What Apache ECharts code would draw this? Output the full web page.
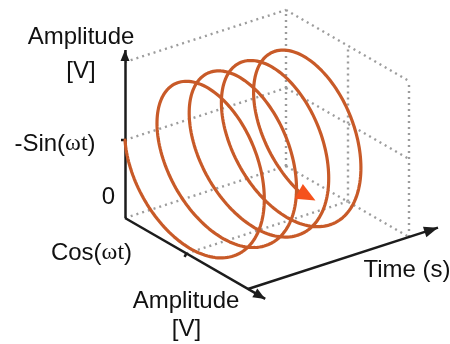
<!DOCTYPE html>
<html>
<head>
<meta charset="utf-8">
<script src="https://cdn.jsdelivr.net/npm/echarts@6/dist/echarts.min.js"></script>
<style>
  html, body { margin: 0; padding: 0; background: #ffffff; }
  #chart { width: 450px; height: 344px; }
</style>
</head>
<body>
<div id="chart"></div>
<script>
// Rotating phasor (cos(ωt), -sin(ωt)) traced along the time axis as a helix.
const helixPeriods = 4.19;          // periods of ωt drawn along time
const boxPeriods = 5;               // periods covered by the time extent of the box
const amplitudeRange = [-1, 1];     // amplitude range on both amplitude axes
const gridLevels = [0, 0.5, 1];     // grid positions as fractions of a box edge
const tickLevels = [0.5];           // tick marks on the two amplitude axes
const tickLabels = ['0', '-Sin(ωt)', 'Cos(ωt)'];
const axisTitles = ['Amplitude', '[V]', 'Time (s)'];
const samplesPerPeriod = 160;

// Oblique projection: a = depth toward the viewer, b = along time, c = up.
const AX = [123, -71], BX = [161, 52], CX = [0, 156];
function project(a, b, c) {
  return [AX[0] * a + BX[0] * b + CX[0] * c, AX[1] * a + BX[1] * b + CX[1] * c];
}

const ampSpan = amplitudeRange[1] - amplitudeRange[0];
function phasor(periods) {
  const ph = 2 * Math.PI * periods;
  const cosV = Math.cos(ph), negSinV = -Math.sin(ph);
  const a = (amplitudeRange[1] - cosV) / ampSpan;
  const c = (negSinV - amplitudeRange[0]) / ampSpan;
  return project(a, periods / boxPeriods, c);
}

// helix samples
const helix = [];
const nSamples = Math.round(helixPeriods * samplesPerPeriod);
for (let i = 0; i <= nSamples; i++) helix.push(phasor(helixPeriods * i / nSamples));

// dotted box grid: back wall (a = 0), end wall (b = 1), floor (c = 0)
const gridLines = [];
gridLevels.forEach(function (c) {
  gridLines.push({ coords: [project(0, 0, c), project(0, 1, c)] });  // back wall, along time
  gridLines.push({ coords: [project(0, 1, c), project(1, 1, c)] });  // end wall, across
});
gridLevels.forEach(function (a) {
  gridLines.push({ coords: [project(a, 1, 0), project(a, 1, 1)] });  // end wall, verticals
});
gridLines.push({ coords: [project(0.5, 0, 0), project(0.5, 1, 0)] }); // floor centre line

// solid axes with arrowheads: [start, tip]
const axisSegs = [
  [project(0, 0, 0), project(0, 0, 1.077)],   // vertical amplitude
  [project(0, 0, 0), project(1.14, 0, 0)],    // cos amplitude
  [project(1, 0, 0), project(1, 1.18, 0)]     // time
];
const arrowSizes = [[11, 4.5], [12, 5], [14, 5.5]];

// arrowhead data: [fromX, fromY, tipX, tipY, length, halfWidth]
const axisArrows = axisSegs.map(function (s, i) {
  return [s[0][0], s[0][1], s[1][0], s[1][1], arrowSizes[i][0], arrowSizes[i][1]];
});
const helixEnd = helix[helix.length - 1];
const helixAim = phasor(helixPeriods + 0.11);
const helixArrow = [[helixEnd[0], helixEnd[1], helixAim[0], helixAim[1], 19, 8.5]];

// ticks: [x, y, dirX, dirY] with direction in screen pixels
const ticks = [];
tickLevels.forEach(function (t) {
  const pv = project(0, 0, t);
  ticks.push([pv[0], pv[1], -1, 0]);
  const pc = project(t, 0, 0);
  ticks.push([pc[0], pc[1], -0.5, 0.866]);
});

function arrowItem(params, api) {
  const from = api.coord([api.value(0), api.value(1)]);
  const to = api.coord([api.value(2), api.value(3)]);
  const len = api.value(4), hw = api.value(5);
  let dx = to[0] - from[0], dy = to[1] - from[1];
  const d = Math.hypot(dx, dy);
  dx /= d; dy /= d;
  let tip, base;
  if (params.seriesName === 'helixArrow') {
    base = from;
    tip = [from[0] + dx * len, from[1] + dy * len];
  } else {
    tip = to;
    base = [to[0] - dx * len, to[1] - dy * len];
  }
  return {
    type: 'polygon',
    shape: { points: [tip, [base[0] - dy * hw, base[1] + dx * hw], [base[0] + dy * hw, base[1] - dx * hw]] },
    style: { fill: api.visual('color') }
  };
}

const chart = echarts.init(document.getElementById('chart'), null, { renderer: 'canvas' });
const sans = "'Liberation Sans', Arial, sans-serif";
const serif = "'Liberation Serif', 'Times New Roman', serif";
const FS = 24;

function label(x, y, text, rich) {
  return {
    type: 'text', x: x, y: y, silent: true,
    style: {
      text: text, fill: '#111111', font: FS + 'px ' + sans,
      align: 'center', verticalAlign: 'middle',
      rich: rich ? { w: { fontFamily: serif, fontSize: FS, fill: '#111111' } } : undefined
    }
  };
}

chart.setOption({
  animation: false,
  backgroundColor: '#ffffff',
  grid: { left: 0, right: 0, top: 0, bottom: 0 },
  xAxis: { type: 'value', min: -125, max: 325, show: false },
  yAxis: { type: 'value', min: -126, max: 218, show: false },
  series: [
    {
      name: 'grid', type: 'lines', coordinateSystem: 'cartesian2d', silent: true, z: 1,
      data: gridLines,
      lineStyle: { color: '#9c9c9c', width: 2.4, type: [2, 4], opacity: 1 }
    },
    {
      name: 'axes', type: 'lines', coordinateSystem: 'cartesian2d', silent: true, z: 2,
      data: axisSegs.map(function (s) { return { coords: s }; }),
      lineStyle: { color: '#1c1c1c', width: 2.5, opacity: 1 }
    },
    {
      name: 'axisArrows', type: 'custom', coordinateSystem: 'cartesian2d', silent: true, z: 3,
      itemStyle: { color: '#1c1c1c' },
      data: axisArrows, renderItem: arrowItem
    },
    {
      name: 'ticks', type: 'custom', coordinateSystem: 'cartesian2d', silent: true, z: 3,
      data: ticks,
      renderItem: function (params, api) {
        const p = api.coord([api.value(0), api.value(1)]);
        return {
          type: 'line',
          shape: { x1: p[0], y1: p[1], x2: p[0] + api.value(2) * 4, y2: p[1] + api.value(3) * 4 },
          style: { stroke: '#1c1c1c', lineWidth: 2.5 }
        };
      }
    },
    {
      name: 'helix', type: 'lines', coordinateSystem: 'cartesian2d', polyline: true, silent: true, z: 4,
      data: [{ coords: helix }],
      lineStyle: { color: '#c85a28', width: 3.2, opacity: 1, cap: 'round', join: 'round' }
    },
    {
      name: 'helixArrow', type: 'custom', coordinateSystem: 'cartesian2d', silent: true, z: 5,
      itemStyle: { color: '#f5521c' },
      data: helixArrow, renderItem: arrowItem
    }
  ],
  graphic: [
    label(81, 37, axisTitles[0]),
    label(81, 71, axisTitles[1]),
    label(55, 144, '-Sin({w|ωt})', true),
    label(108.5, 197, tickLabels[0]),
    label(91.5, 253, 'Cos({w|ωt})', true),
    label(186, 301, axisTitles[0]),
    label(186.5, 329, axisTitles[1]),
    label(407, 270, axisTitles[2])
  ]
});
</script>
</body>
</html>
